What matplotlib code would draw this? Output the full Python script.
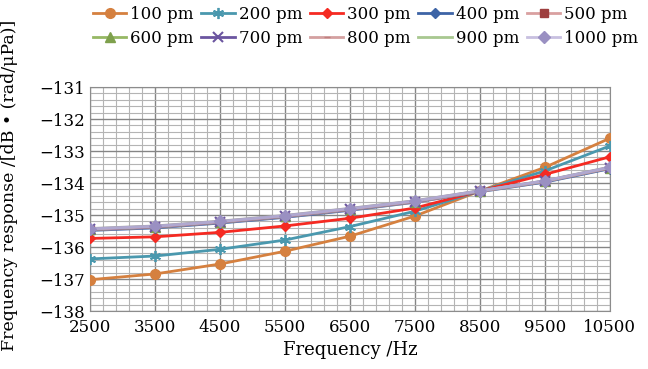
import matplotlib
matplotlib.use("Agg")
from matplotlib import pyplot as plt
from matplotlib.ticker import MultipleLocator, FixedLocator

plt.rcParams['font.family'] = ['DejaVu Serif']
plt.rcParams['axes.unicode_minus'] = True

freqs = [2500, 3500, 4500, 5500, 6500, 7500, 8500, 9500, 10500]

# frequency response per thickness (dB re rad/uPa)
r100 = [-137.02, -136.84, -136.53, -136.13, -135.66, -135.03, -134.25, -133.51, -132.60]
r200 = [-136.37, -136.28, -136.07, -135.78, -135.36, -134.88, -134.25, -133.62, -132.84]
r300 = [-135.73, -135.68, -135.54, -135.34, -135.10, -134.78, -134.25, -133.73, -133.18]
r400 = [-135.48, -135.40, -135.25, -135.07, -134.85, -134.60, -134.27, -133.97, -133.55]
r500 = [-135.46, -135.38, -135.23, -135.05, -134.83, -134.59, -134.26, -133.95, -133.53]
r600 = [-135.45, -135.37, -135.22, -135.04, -134.82, -134.58, -134.25, -133.94, -133.52]
r700 = [-135.45, -135.37, -135.22, -135.04, -134.82, -134.58, -134.25, -133.94, -133.52]
r800 = [-135.44, -135.36, -135.21, -135.03, -134.81, -134.57, -134.25, -133.94, -133.52]
r900 = [-135.42, -135.34, -135.19, -135.01, -134.79, -134.55, -134.24, -133.93, -133.50]
r1000 = [-135.43, -135.35, -135.20, -135.02, -134.80, -134.56, -134.24, -133.93, -133.51]

labels = ['100 pm', '200 pm', '300 pm', '400 pm', '500 pm',
          '600 pm', '700 pm', '800 pm', '900 pm', '1000 pm']
series = [r100, r200, r300, r400, r500, r600, r700, r800, r900, r1000]

styles = [
    dict(color='#D5803F', marker='o', ms=7, mfc='#D5803F', mec='#D5803F'),
    dict(color='#4A98AE', marker=(6, 2, 0), ms=8, mfc='#4A98AE', mec='#4A98AE', mew=1.3),
    dict(color='#F52A22', marker='D', ms=5.5, mfc='#F52A22', mec='#F52A22'),
    dict(color='#3D64A6', marker='D', ms=5.5, mfc='#3D64A6', mec='#3D64A6'),
    dict(color='#D9A0A0', marker='s', ms=6, mfc='#9E3E3E', mec='#9E3E3E'),
    dict(color='#96B864', marker='^', ms=6.5, mfc='#7EA04C', mec='#7EA04C'),
    dict(color='#6B55A0', marker='x', ms=6.5, mfc='#6B55A0', mec='#6B55A0', mew=1.5),
    dict(color='#D4A0A0', marker='_', ms=5, mfc='#C08080', mec='#C08080'),
    dict(color='#A6A6A6', marker='_', ms=5, mfc='#A8C890', mec='#A8C890'),
    dict(color='#B0A8D0', marker='D', ms=6, mfc='#9A90C2', mec='#9A90C2'),
]
legend_line_colors = ['#D5803F', '#4A98AE', '#F52A22', '#3D64A6', '#D9A0A0',
                      '#96B864', '#6B55A0', '#D4A0A0', '#A8C890', '#C8C0E0']

fig = plt.figure(figsize=(6.48, 3.69), dpi=100)
ax = fig.add_axes([0.139, 0.157, 0.802, 0.607])

handles = []
for vals, lab, st, lc in zip(series, labels, styles, legend_line_colors):
    ax.plot(freqs, vals, lw=2, zorder=3, **st)
    h, = ax.plot([], [], lw=2, color=lc, marker=st['marker'], ms=st['ms'],
                 mfc=st['mfc'], mec=st['mec'], mew=st.get('mew', 1))
    handles.append(h)

ax.set_xlim(2500, 10500)
ax.set_ylim(-138, -131)
ax.set_xticks(freqs)
ax.xaxis.set_minor_locator(FixedLocator(list(range(2500, 10501, 200))))
ax.yaxis.set_major_locator(MultipleLocator(1))
ax.yaxis.set_minor_locator(MultipleLocator(0.2))
ax.grid(which='major', color='#858585', lw=1.0, zorder=0)
ax.grid(which='minor', color='#B4B4B4', lw=0.8, zorder=0)
ax.tick_params(which='both', length=0, labelsize=12, pad=4)
ax.tick_params(axis='x', pad=6)
for s in ax.spines.values():
    s.set_color('#8C8C8C')

ax.set_xlabel('Frequency /Hz', fontsize=13, labelpad=3)
ax.set_ylabel('Frequency response /[dB • (rad/μPa)]', fontsize=12.5)
ax.yaxis.set_label_coords(-0.138, 0.56)

# legend fills column by column, so interleave to get two rows of five
order = [0, 5, 1, 6, 2, 7, 3, 8, 4, 9]
fig.legend([handles[i] for i in order], [labels[i] for i in order], ncol=5,
           loc='upper left', bbox_to_anchor=(0.128, 1.01),
           frameon=False, fontsize=12, handlelength=2.0, handletextpad=0.25,
           columnspacing=0.45, labelspacing=0.4, borderaxespad=0.2)

fig.savefig('out.png', dpi=100)
